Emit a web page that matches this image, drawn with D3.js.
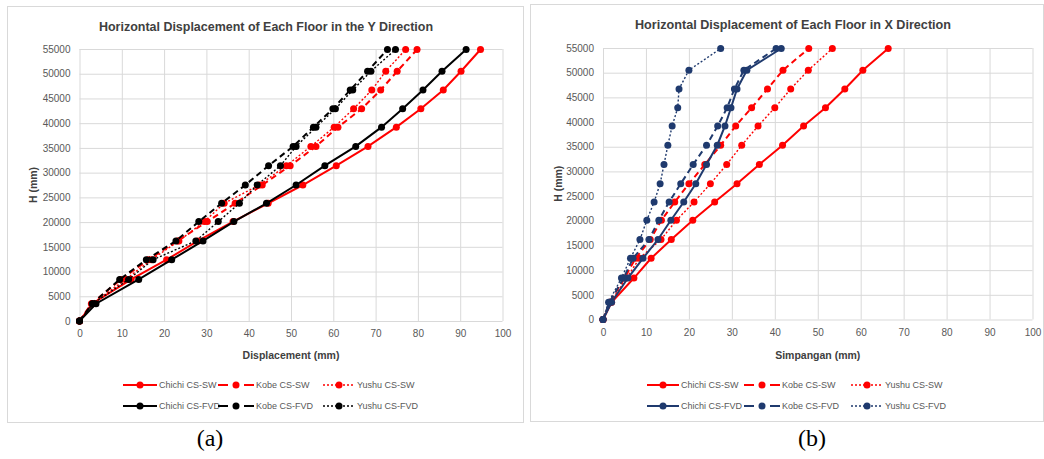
<!DOCTYPE html>
<html><head><meta charset="utf-8">
<script src="https://cdn.jsdelivr.net/npm/d3@7"></script>
<style>
html,body{margin:0;padding:0;background:#fff;}
svg{display:block;}
text{font-family:"Liberation Sans",Arial,sans-serif;}
</style></head>
<body>
<svg id="c" width="1044" height="459"></svg>
<script>
// ---------- DATA ----------
const heights = [0, 3500, 8400, 12400, 16200, 20100, 23800, 27500, 31400, 35300, 39200, 42900, 46700, 50500, 54900];
const xTicks = [0, 10, 20, 30, 40, 50, 60, 70, 80, 90, 100];
const yTicks = [0, 5000, 10000, 15000, 20000, 25000, 30000, 35000, 40000, 45000, 50000, 55000];
const seriesNames = ["Chichi CS-SW", "Kobe CS-SW", "Yushu CS-SW", "Chichi CS-FVD", "Kobe CS-FVD", "Yushu CS-FVD"];

// (a) Y direction
const chichiSW_Y  = [0, 3.0, 12.2, 20.6, 28.0, 36.3, 44.6, 52.8, 60.7, 68.2, 74.9, 80.7, 86.0, 90.2, 94.8];
const kobeSW_Y    = [0, 2.8, 9.8, 16.3, 23.2, 30.2, 36.8, 43.2, 49.8, 55.9, 61.1, 66.7, 71.2, 75.1, 79.8];
const yushuSW_Y   = [0, 3.0, 10.9, 17.0, 23.5, 29.5, 34.2, 42.5, 48.9, 54.7, 60.2, 64.8, 69.1, 72.4, 77.1];
const chichiFVD_Y = [0, 3.9, 14.0, 21.8, 29.2, 36.5, 44.2, 51.2, 58.0, 65.3, 71.4, 76.4, 81.2, 85.7, 91.4];
const kobeFVD_Y   = [0, 3.0, 9.5, 15.8, 22.8, 28.2, 33.6, 39.2, 44.7, 50.5, 55.3, 59.9, 64.0, 68.1, 72.8];
const yushuFVD_Y  = [0, 3.2, 11.6, 17.4, 27.5, 32.8, 37.8, 42.0, 47.5, 51.2, 55.9, 60.5, 64.6, 68.9, 74.7];

// (b) X direction
const chichiSW_X  = [0, 2.0, 7.2, 11.2, 15.9, 20.9, 26.0, 31.2, 36.4, 41.8, 46.7, 51.8, 56.3, 60.5, 66.4];
const kobeSW_X    = [0, 1.6, 5.0, 7.6, 11.0, 13.6, 16.7, 20.0, 23.7, 27.4, 30.9, 34.6, 38.3, 41.9, 47.9];
const yushuSW_X   = [0, 1.7, 5.5, 8.5, 13.5, 17.1, 21.2, 25.0, 28.8, 32.3, 36.1, 40.0, 43.7, 47.8, 53.4];
const chichiFVD_X = [0, 2.0, 5.8, 9.3, 12.8, 15.8, 18.8, 21.6, 24.1, 26.6, 28.4, 29.8, 31.2, 33.5, 41.5];
const kobeFVD_X   = [0, 1.5, 4.8, 7.0, 10.7, 13.0, 15.4, 18.1, 21.0, 24.1, 26.7, 28.9, 30.6, 32.8, 40.3];
const yushuFVD_X  = [0, 1.3, 4.3, 6.4, 8.6, 10.2, 11.9, 13.3, 14.2, 15.1, 16.1, 17.4, 17.7, 20.0, 27.4];

// ---------- STYLES ----------
const RED = "#ff0000", BLACK = "#000000", NAVY = "#1f3a6e";
const dashes = ["none", "6,4", "2,2"];
const legDashes = ["none", "10,5,6,5,10", "2,2"];
const widths = [2, 2, 1.4];

const svg = d3.select("#c");

function drawChart(cfg) {
  const g = svg.append("g");
  g.append("rect").attr("x", cfg.frame[0] + 0.5).attr("y", cfg.frame[1] + 0.5)
    .attr("width", cfg.frame[2] - cfg.frame[0]).attr("height", cfg.frame[3] - cfg.frame[1])
    .attr("fill", "#fff").attr("stroke", "#d9d9d9").attr("stroke-width", 1);

  const x = d3.scaleLinear().domain([0, 100]).range([cfg.px0, cfg.px1]);
  const y = d3.scaleLinear().domain([0, 55000]).range([cfg.py0, cfg.py1]);

  const gx = g.append("g").attr("transform", `translate(0,${cfg.py0})`)
    .call(d3.axisBottom(x).tickValues(xTicks).tickSize(-(cfg.py0 - cfg.py1)).tickFormat(""));
  const gy = g.append("g").attr("transform", `translate(${cfg.px0},0)`)
    .call(d3.axisLeft(y).tickValues(yTicks).tickSize(-(cfg.px1 - cfg.px0)).tickFormat(""));
  [gx, gy].forEach(a => { a.select(".domain").remove(); a.selectAll("line").attr("stroke", "#d9d9d9").attr("stroke-width", 1); });

  const lx = g.append("g").attr("transform", `translate(0,${cfg.py0 + 9})`)
    .call(d3.axisBottom(x).tickValues(xTicks).tickSize(0).tickPadding(0).tickFormat(d3.format("d")));
  lx.select(".domain").remove();
  lx.selectAll("text").attr("fill", "#595959").attr("font-size", 10).attr("dy", "0.71em")
    .style("font-family", "Liberation Sans, Arial, sans-serif");
  const ly = g.append("g").attr("transform", `translate(${cfg.px0 - 9},0)`)
    .call(d3.axisLeft(y).tickValues(yTicks).tickSize(0).tickPadding(0).tickFormat(d3.format("d")));
  ly.select(".domain").remove();
  ly.selectAll("text").attr("fill", "#595959").attr("font-size", 10)
    .style("font-family", "Liberation Sans, Arial, sans-serif");

  g.append("text").attr("x", cfg.titleX).attr("y", cfg.titleY).attr("text-anchor", "middle")
    .attr("font-size", 12).attr("font-weight", "bold").attr("fill", "#404040")
    .attr("textLength", cfg.titleW).attr("lengthAdjust", "spacingAndGlyphs").text(cfg.title);
  g.append("text").attr("x", (cfg.px0 + cfg.px1) / 2).attr("y", 359).attr("text-anchor", "middle")
    .attr("font-size", 10.5).attr("font-weight", "bold").attr("fill", "#404040").text(cfg.xLabel);
  g.append("text").attr("transform", `translate(${cfg.yLabelX},${(cfg.py0 + cfg.py1) / 2}) rotate(-90)`)
    .attr("text-anchor", "middle").attr("font-size", 10.5).attr("font-weight", "bold").attr("fill", "#404040").text("H (mm)");

  const line = d3.line().x(d => x(d[0])).y(d => y(d[1]));
  cfg.series.forEach((vals, i) => {
    const pts = vals.map((v, k) => [v, heights[k]]);
    const col = i < 3 ? RED : cfg.fvdColor;
    const sg = g.append("g");
    sg.append("path").datum(pts).attr("d", line).attr("fill", "none").attr("stroke", col)
      .attr("stroke-width", widths[i % 3]).attr("stroke-dasharray", dashes[i % 3]);
    sg.selectAll("circle").data(pts).join("circle")
      .attr("cx", d => x(d[0])).attr("cy", d => y(d[1])).attr("r", 3.5).attr("fill", col);
  });

  const legRows = [385, 406];
  seriesNames.forEach((name, i) => {
    const col = i < 3 ? RED : cfg.fvdColor;
    const r = Math.floor(i / 3), c = i % 3;
    const x0 = cfg.legX[c], x1 = cfg.legX[c] + cfg.legW[c];
    const yy = legRows[r];
    const lg = g.append("g");
    lg.append("line").attr("x1", x0).attr("x2", x1).attr("y1", yy).attr("y2", yy)
      .attr("stroke", col).attr("stroke-width", widths[c]).attr("stroke-dasharray", legDashes[c]);
    lg.append("circle").attr("cx", (x0 + x1) / 2).attr("cy", yy).attr("r", 3.5).attr("fill", col);
    lg.append("text").attr("x", x1 + 2).attr("y", yy + 3.2).attr("font-size", 9).attr("fill", "#595959").text(name);
  });

  g.append("text").attr("x", cfg.panelX).attr("y", 446).attr("text-anchor", "middle")
    .attr("font-size", 24).style("font-family", "Liberation Serif, 'DejaVu Serif', serif").attr("fill", "#000").text(cfg.panel);
}

drawChart({
  frame: [7, 6, 523, 422], px0: 79.5, px1: 502.5, py0: 321, py1: 49,
  title: "Horizontal Displacement of Each Floor in the Y Direction", titleX: 266, titleY: 31, titleW: 334,
  xLabel: "Displacement (mm)", yLabelX: 37,
  series: [chichiSW_Y, kobeSW_Y, yushuSW_Y, chichiFVD_Y, kobeFVD_Y, yushuFVD_Y],
  fvdColor: BLACK, legX: [123, 218, 323], legW: [34, 36, 32], panel: "(a)", panelX: 210
});

drawChart({
  frame: [530, 4, 1043, 421], px0: 603, px1: 1032.5, py0: 319.5, py1: 48,
  title: "Horizontal Displacement of Each Floor in X Direction", titleX: 793, titleY: 29, titleW: 316,
  xLabel: "Simpangan (mm)", yLabelX: 562,
  series: [chichiSW_X, kobeSW_X, yushuSW_X, chichiFVD_X, kobeFVD_X, yushuFVD_X],
  fvdColor: NAVY, legX: [647, 744, 851], legW: [32, 36, 32], panel: "(b)", panelX: 812
});
</script>
</body></html>
